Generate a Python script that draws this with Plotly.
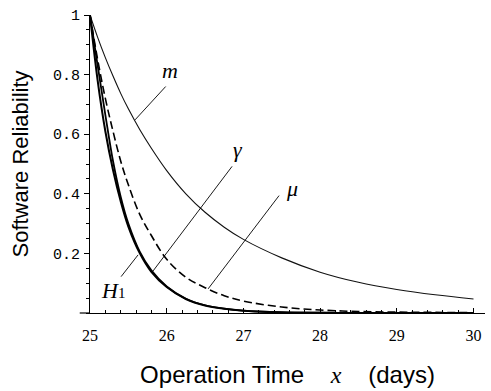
import plotly.graph_objects as go

# Operation time (days)
x_days = [25, 25.1, 25.2, 25.3, 25.4, 25.5, 25.65, 25.8, 26, 26.25, 26.5, 26.75,
          27, 27.5, 28, 28.5, 29, 29.5, 30]

# Software reliability curves
rel_m = [1, 0.925, 0.857, 0.795, 0.737, 0.685, 0.615, 0.553, 0.478, 0.40, 0.338, 0.288,
         0.247, 0.185, 0.137, 0.103, 0.079, 0.061, 0.047]
rel_mu = [1, 0.85, 0.72, 0.61, 0.51, 0.43, 0.33, 0.26, 0.18, 0.12, 0.085, 0.058,
          0.04, 0.02, 0.01, 0.005, 0.003, 0.002, 0.001]
rel_gamma = [1, 0.83, 0.665, 0.51, 0.39, 0.30, 0.205, 0.143, 0.089, 0.048, 0.026, 0.015,
             0.008, 0.0025, 0.0008, 0.0003, 0.0001, 0, 0]
rel_H1 = [1, 0.78, 0.61, 0.48, 0.375, 0.29, 0.20, 0.138, 0.087, 0.047, 0.025, 0.014,
          0.0075, 0.002, 0.0006, 0.0002, 0.0001, 0, 0]

y_tickvals = [0.2, 0.4, 0.6, 0.8, 1]
y_ticktext = ["0.2", "0.4", "0.6", "0.8", "1"]
x_tickvals = [25, 26, 27, 28, 29, 30]

fig = go.Figure()
fig.add_trace(go.Scatter(x=x_days, y=rel_m, mode="lines", name="m",
                         line=dict(color="#111111", width=1.1, shape="spline", smoothing=1.0)))
fig.add_trace(go.Scatter(x=x_days, y=rel_mu, mode="lines", name="μ",
                         line=dict(color="black", width=1.6, dash="8px,4px", shape="spline")))
fig.add_trace(go.Scatter(x=x_days, y=rel_gamma, mode="lines", name="γ",
                         line=dict(color="black", width=1.8, shape="spline")))
fig.add_trace(go.Scatter(x=x_days, y=rel_H1, mode="lines", name="H1",
                         line=dict(color="black", width=2.0, shape="spline")))

# pointer lines (label leaders)
pointers = [
    (25.587, 0.648, 26.005, 0.765),
    (25.822, 0.141, 26.867, 0.497),
    (26.54, 0.081, 27.48, 0.399),
    (25.627, 0.195, 25.39, 0.117),
]
for hx, hy, tx, ty in pointers:
    fig.add_annotation(x=hx, y=hy, ax=tx, ay=ty, xref="x", yref="y", axref="x", ayref="y",
                       text="", showarrow=True, arrowhead=0, arrowwidth=0.9, arrowcolor="black",
                       standoff=0, startstandoff=0)

labels = [
    (26.04, 0.815, "<i>m</i>"),
    (26.93, 0.547, "<i>γ</i>"),
    (27.64, 0.419, "<i>μ</i>"),
    (25.30, 0.077, "<i>H</i><span style='font-size:15px'>1</span>"),
]
for lx, ly, txt in labels:
    fig.add_annotation(x=lx, y=ly, xref="x", yref="y", text=txt, showarrow=False,
                       font=dict(family="Liberation Serif", size=22, color="black"))

# x axis line extension to the left of the y axis
fig.add_shape(type="line", xref="paper", yref="paper", x0=-0.026, x1=0, y0=0, y1=0,
              line=dict(color="black", width=1.2))

fig.update_layout(
    width=491, height=391,
    margin=dict(l=90, r=6, t=15, b=78),
    paper_bgcolor="white", plot_bgcolor="white",
    showlegend=False,
    xaxis=dict(range=[25, 30.15], tickvals=x_tickvals, showgrid=False, zeroline=False,
               showline=True, linecolor="black", linewidth=1.2,
               ticks="inside", ticklen=5, tickcolor="black",
               minor=dict(ticks="inside", ticklen=2.5, dtick=0.2, tickcolor="black"),
               tickfont=dict(family="Liberation Serif", size=16, color="black"),
               ticklabelstandoff=8,
               title=dict(text="Operation Time    <i><span style='font-family:Liberation Serif'>x</span></i>    (days)",
                          font=dict(family="Liberation Sans", size=24, color="black"),
                          standoff=22)),
    yaxis=dict(range=[0, 1.0], tickvals=y_tickvals, ticktext=y_ticktext, showgrid=False,
               zeroline=False, showline=True, linecolor="black", linewidth=1.2,
               ticks="outside", ticklen=5, tickcolor="black",
               minor=dict(ticks="outside", ticklen=2.5, dtick=0.05, tickcolor="black"),
               tickfont=dict(family="Liberation Mono", size=15, color="black"),
               ticklabelstandoff=1,
               title=dict(text="Software Reliability",
                          font=dict(family="Liberation Sans", size=22, color="black"),
                          standoff=18)),
)

fig.write_html("out.html")
